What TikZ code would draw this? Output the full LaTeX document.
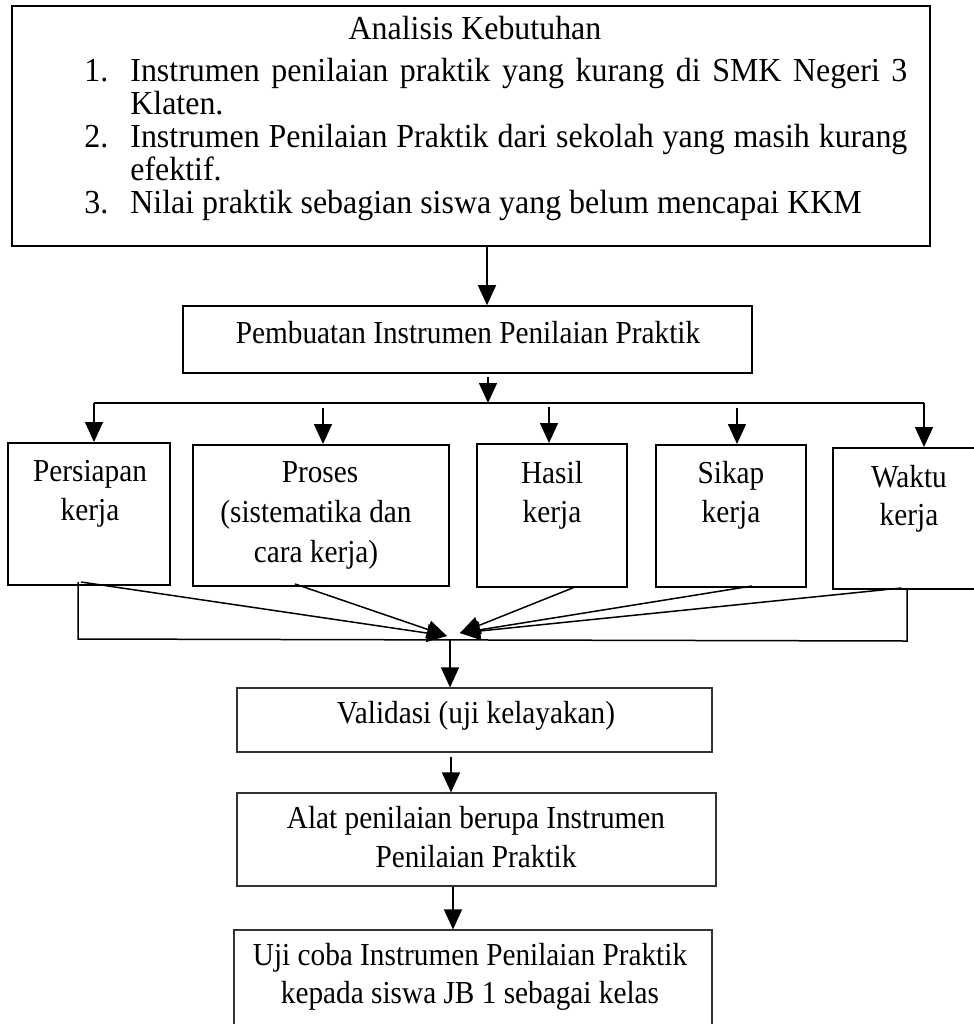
\documentclass[tikz,border=0pt]{standalone}
\usepackage{fontspec}
\setmainfont{Liberation Serif}[FakeStretch=0.915]
\newfontfamily\topfont{Liberation Serif}[FakeStretch=0.95]
\usetikzlibrary{arrows.meta}
\begin{document}
\begin{tikzpicture}[x=0.5pt,y=-0.5pt,
  box/.style={draw, line width=1pt, inner sep=0pt},
  midbox/.style={draw, line width=0.8pt, inner sep=0pt},
  thinbox/.style={draw=black!80, line width=0.6pt, inner sep=0pt},
  txt/.style={inner sep=0pt, font=\fontsize{16}{19}\selectfont},
  bigtxt/.style={inner sep=0pt, font=\topfont\fontsize{16.8}{19}\selectfont},
  arr/.style={line width=0.75pt, -{Triangle[length=10pt,width=9pt]}},
  ln/.style={line width=0.75pt}]
\useasboundingbox (0,0) rectangle (974,1024);
\clip (0,0) rectangle (974,1024);
% top box
\node[box, minimum width=459pt, minimum height=120pt] (top) at (471,126) {};
\node[bigtxt, anchor=base] (t0) at (475,39) {Analisis Kebutuhan};
\node[bigtxt, anchor=base west] (n1) at (84,81) {1.};
\node[bigtxt, anchor=base west] (l1) at (130,81) {\makebox[388.5pt][s]{Instrumen penilaian praktik yang kurang di SMK Negeri 3}};
\node[bigtxt, anchor=base west] (l1b) at (130,114) {Klaten.};
\node[bigtxt, anchor=base west] (n2) at (84,147) {2.};
\node[bigtxt, anchor=base west] (l2) at (130,147) {\makebox[388.5pt][s]{Instrumen Penilaian Praktik dari sekolah yang masih kurang}};
\node[bigtxt, anchor=base west] (l2b) at (130,180) {efektif.};
\node[bigtxt, anchor=base west] (n3) at (84,213) {3.};
\node[bigtxt, anchor=base west] (l3) at (130,213) {Nilai praktik sebagian siswa yang belum mencapai KKM};
% second box
\node[midbox, minimum width=284.5pt, minimum height=33.5pt] (pb) at (467.5,339.5) {};
\node[txt, anchor=base] (pbt) at (468,343) {Pembuatan Instrumen Penilaian Praktik};
\draw[arr] ([xshift=8pt]top.south) -- ([xshift=9.75pt]pb.north);
\coordinate (split) at (488,403);
\draw[arr] ([xshift=10.25pt,yshift=-1.5pt]pb.south) -- (split);
% five boxes
\node[box, minimum width=81pt, minimum height=71pt] (p) at (89,514) {};
\node[txt, anchor=base] at (90,481) {Persiapan};
\node[txt, anchor=base] at (90,520) {kerja};
\node[box, minimum width=128pt, minimum height=70.5pt] (q) at (321,515.5) {};
\node[txt, anchor=base] at (320,482) {Proses};
\node[txt, anchor=base] at (316,522) {(sistematika dan};
\node[txt, anchor=base] at (316,562) {cara kerja)};
\node[box, minimum width=75pt, minimum height=71.5pt] (h) at (552,515.5) {};
\node[txt, anchor=base] at (552,483) {Hasil};
\node[txt, anchor=base] at (552,522) {kerja};
\node[box, minimum width=75pt, minimum height=71pt] (s) at (731,516) {};
\node[txt, anchor=base] at (731,483) {Sikap};
\node[txt, anchor=base] at (731,522) {kerja};
\node[box, minimum width=78.5pt, minimum height=70.5pt] (w) at (911.5,518.5) {};
\node[txt, anchor=base] at (909,487) {Waktu};
\node[txt, anchor=base] at (909,525) {kerja};
% split line and drops
\coordinate (d1) at (94,403);
\coordinate (d2) at (323,408);
\coordinate (d3) at (549,407);
\coordinate (d4) at (737,408);
\coordinate (d5) at (924,403);
\draw[ln] (d1) -- (d5);
\draw[arr] (d1) -- (d1 |- p.north);
\draw[arr] (d2) -- (d2 |- q.north);
\draw[arr] (d3) -- (d3 |- h.north);
\draw[arr] (d4) -- (d4 |- s.north);
\draw[arr] (d5) -- (d5 |- w.north);
% merge
\coordinate (m1) at (447,636);
\coordinate (m2) at (460,633);
\coordinate (m) at (450,640);
\coordinate (mL) at (78,639);
\coordinate (mR) at (907,641);
\draw[ln] ([xshift=-5.5pt,yshift=2pt]p.south) -- (mL) -- (mR) -- ([xshift=-2.25pt,yshift=1pt]w.south);
\draw[arr] ([xshift=-4pt,yshift=2pt]p.south) -- (m1);
\draw[arr] ([xshift=-13pt,yshift=1.5pt]q.south) -- (m1);
\draw[arr] ([xshift=11.5pt,yshift=0.5pt]h.south) -- (m2);
\draw[arr] ([xshift=10.5pt,yshift=1pt]s.south) -- (m2);
\draw[arr] ([xshift=-5pt,yshift=1pt]w.south) -- (m2);
% lower chain
\node[thinbox, minimum width=237.5pt, minimum height=32pt] (val) at (474.5,720) {};
\node[txt, anchor=base] at (476,723) {Validasi (uji kelayakan)};
\draw[arr] (m) -- (m |- val.north);
\node[thinbox, minimum width=239.5pt, minimum height=46.5pt] (alat) at (476.5,839.5) {};
\node[txt, anchor=base] at (476,828) {Alat penilaian berupa Instrumen};
\node[txt, anchor=base] at (476,867) {Penilaian Praktik};
\draw[arr] ([xshift=-11.75pt,yshift=-2pt]val.south) -- ([xshift=-12.75pt]alat.north);
\node[thinbox, minimum width=239pt, minimum height=55pt] (uji) at (473,985) {};
\node[txt, anchor=base] at (470,965) {Uji coba Instrumen Penilaian Praktik};
\node[txt, anchor=base] at (470,1003) {kepada siswa JB 1 sebagai kelas};
\draw[arr] ([xshift=-11.75pt]alat.south) -- ([xshift=-10pt]uji.north);
\end{tikzpicture}
\end{document}
